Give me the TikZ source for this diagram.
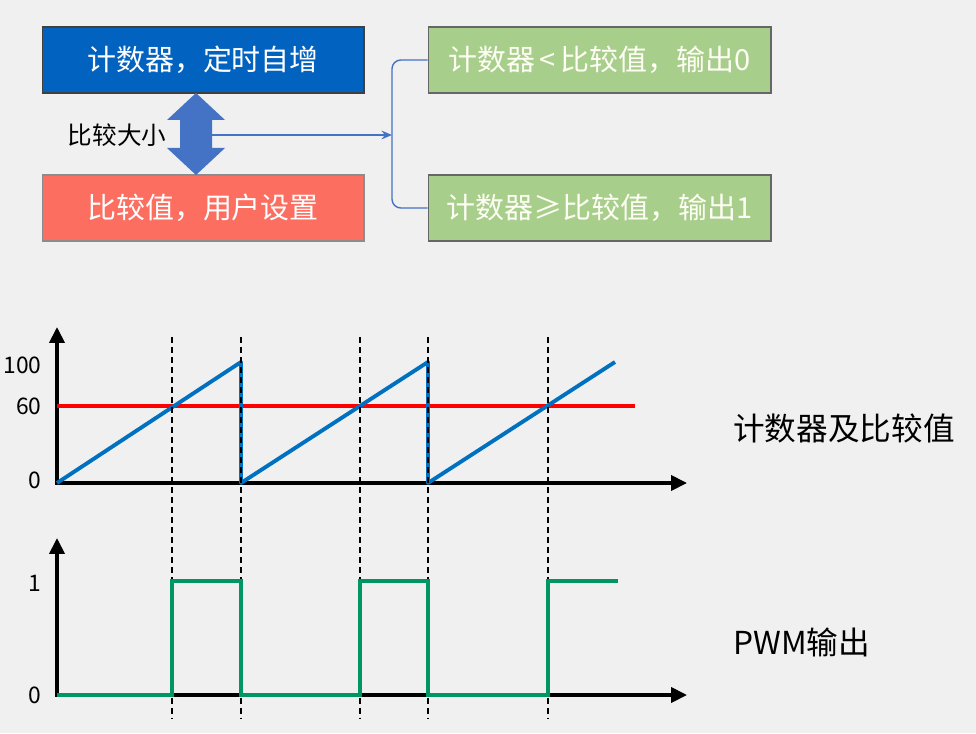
\documentclass[tikz,border=0pt]{standalone}
\usepackage{fontspec}
\newfontfamily\cjk{Noto Sans CJK SC}
\usetikzlibrary{arrows.meta}
\definecolor{bggray}{RGB}{240,240,240}
\definecolor{cntblue}{RGB}{2,98,192}
\definecolor{cmpred}{RGB}{252,110,96}
\definecolor{outgreen}{RGB}{168,206,140}
\definecolor{linkblue}{RGB}{68,114,196}
\definecolor{sawblue}{RGB}{0,112,192}
\definecolor{pwmgreen}{RGB}{0,150,100}

\begin{document}
\begin{tikzpicture}[x=0.02cm, y=-0.02cm,
  box/.style={draw=black!75, line width=0.6pt, minimum width=6.44cm, minimum height=1.32cm,
              inner sep=0pt, font=\cjk\fontsize{16.5}{20}\selectfont, text=white},
  cntbox/.style={box, fill=cntblue},
  cmpbox/.style={box, fill=cmpred, draw=black!45},
  outbox/.style={box, fill=outgreen, draw=black!60, minimum width=6.86cm, text=yellow!4},
  link/.style={draw=linkblue, line width=0.8pt},
  axisline/.style={line width=2pt, {Triangle[length=9pt,width=8.5pt]}-{Triangle[length=9pt,width=8.5pt]}},
  ticklabel/.style={font=\cjk\fontsize{13}{15}\selectfont, anchor=east, inner sep=0pt},
  guide/.style={dash pattern=on 3.4pt off 2.3pt, line width=1.2pt},
  saw/.style={draw=sawblue, line width=2.2pt, line join=round},
  thr/.style={draw=red, line width=2.2pt},
  pwm/.style={draw=pwmgreen, line width=2.2pt},
  sidelabel/.style={font=\cjk\fontsize{18}{22}\selectfont, anchor=west, inner sep=0pt},
]
\path[use as bounding box, fill=bggray] (0,0) rectangle (976,733);

% Left: counter and compare value
\node[cntbox] (cnt) at (203,60) {计数器，定时自增};
\node[cmpbox] (cmpv) at (203,208) {比较值，用户设置};

% Double arrow between them
\fill[linkblue] (196,93) -- (225,120) -- (212,120) -- (212,148) -- (225,148) -- (196,175)
  -- (167,148) -- (180,148) -- (180,120) -- (167,120) -- cycle;
\coordinate (cmpR) at (212,135);
\node[font=\cjk\fontsize{14}{16}\selectfont, inner sep=0pt] (cmplbl) at (117,135) {比较大小};

% Right: the two outputs
\node[outbox] (lo) at (599.5,60) {计数器\,<\,比较值，输出0};
\node[outbox] (hi) at (599.5,208) {计数器≥比较值，输出1};

% Bracket and arrow
\coordinate (brk) at (392,135);
\draw[link, rounded corners=5pt] (lo.west) -| (brk) |- (hi.west);
\draw[link, -{Stealth[length=6pt,width=5pt]}] (cmpR) -- (brk);

% Counter and compare value chart
\draw[axisline] (57,327) -- (57,483) -- (687,483);
\node[ticklabel] (y100) at (42,365) {100};
\node[ticklabel] (y60) at (42,406) {60};
\node[ticklabel] (y0) at (42,480) {0};
\draw[thr] (57,406) -- (635,406);
\draw[saw] (57,483) -- (241,362) -- (241,483) -- (428,362) -- (428,483) -- (615,362);

% PWM chart
\draw[axisline] (57,538) -- (57,695) -- (687,695);
\node[ticklabel] (p1) at (42,583) {1};
\node[ticklabel] (p0) at (42,695) {0};

% Dashed guides
\draw[guide] (172,337) -- (172,718) (241,337) -- (241,718) (360,337) -- (360,718)
  (428,337) -- (428,718) (548,337) -- (548,718);

\draw[pwm] (57,695) -- (172,695) -- (172,581) -- (241,581) -- (241,695) -- (360,695)
  -- (360,581) -- (428,581) -- (428,695) -- (548,695) -- (548,581) -- (618,581);

% Side captions
\node[sidelabel] (sawcap) at (733,428) {计数器及比较值};
\node[sidelabel] (pwmcap) at (733,642) {PWM输出};

\end{tikzpicture}
\end{document}
